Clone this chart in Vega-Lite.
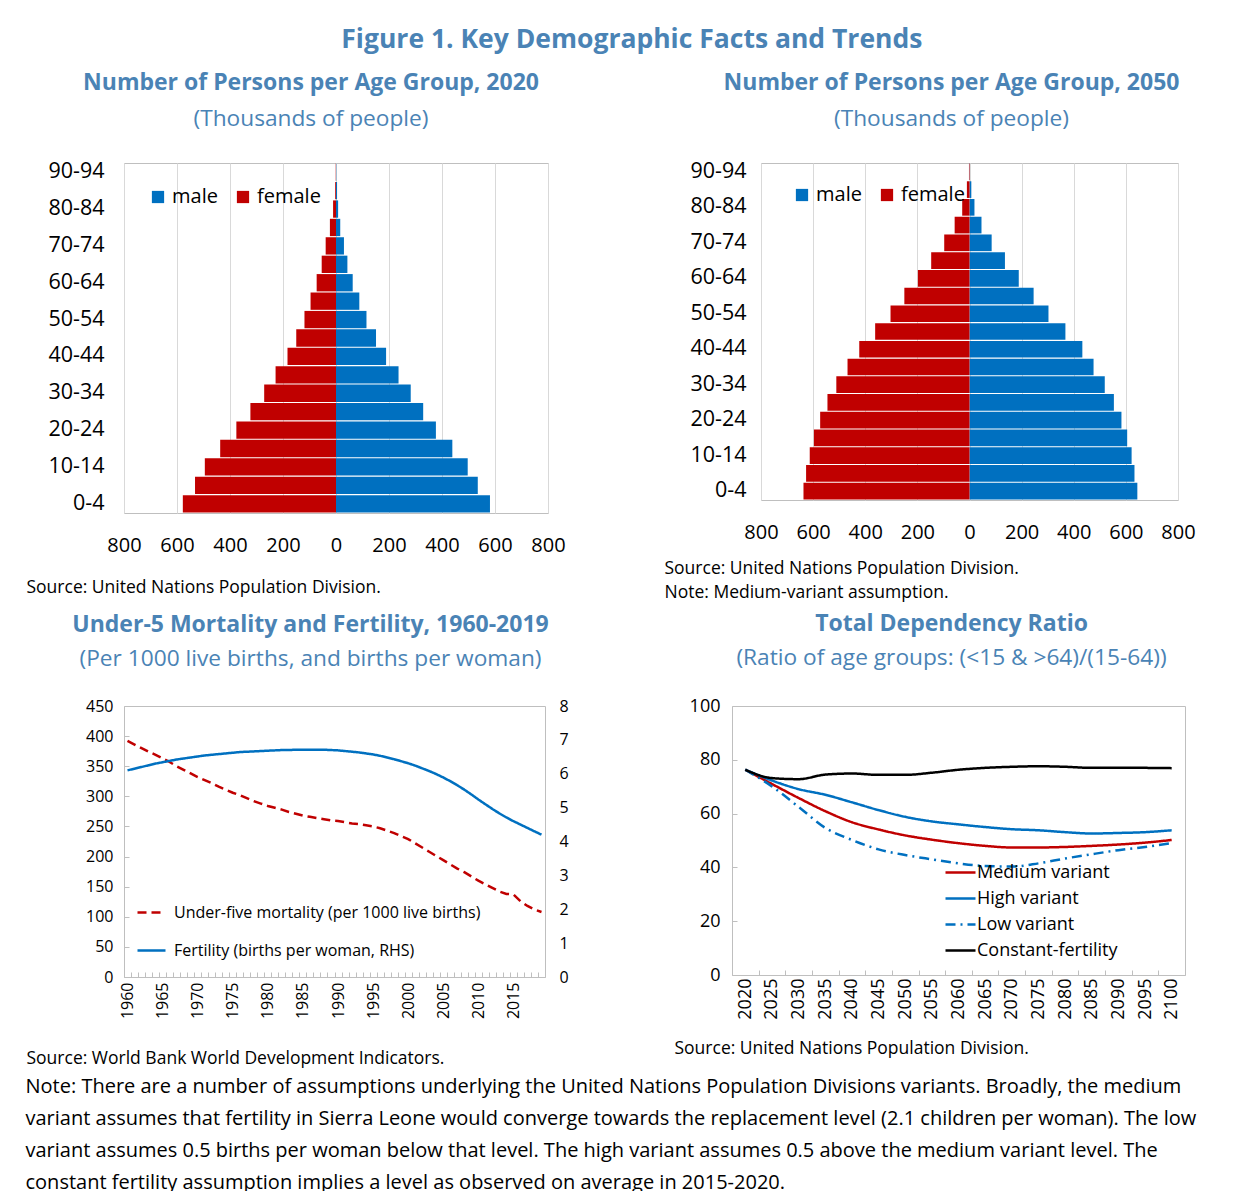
{
  "$schema": "https://vega.github.io/schema/vega-lite/v6.json",
  "background": "white",
  "padding": {"left": 25, "top": 26, "right": 5, "bottom": 0},
  "config": {
    "font": "Open Sans",
    "view": {"stroke": "#BFBFBF", "strokeWidth": 1},
    "axis": {"labelColor": "#000000", "labelFont": "Open Sans", "domain": false, "ticks": false, "grid": false, "titleColor": "#000000", "titleFont": "Open Sans", "titleFontWeight": "normal"},
    "legend": {"labelColor": "#000000", "labelFont": "Open Sans", "labelLimit": 0},
    "title": {"color": "#4A83B5", "font": "Open Sans", "subtitleColor": "#4A83B5", "subtitleFont": "Open Sans"}
  },
  "title": {"text": "Figure 1. Key Demographic Facts and Trends", "fontSize": 26.5, "fontWeight": "bold", "anchor": "middle", "dx": 21, "offset": 18},
  "resolve": {"scale": {"color": "independent", "strokeDash": "independent"}, "legend": {"color": "independent", "strokeDash": "independent"}},
  "spacing": 11,
  "vconcat": [
    {
      "hconcat": [
        {
          "width": 424, "height": 350,
          "title": {"text": "Number of Persons per Age Group, 2020", "subtitle": "(Thousands of people)", "fontSize": 23, "subtitleFontSize": 22.7, "fontWeight": "bold", "anchor": "middle", "frame": "group", "dx": -25, "offset": 30, "subtitlePadding": 13},
          "data": {"values": [
            {"age": "0-4", "male": 581, "female": 578},
            {"age": "5-9", "male": 535, "female": 532},
            {"age": "10-14", "male": 497, "female": 495},
            {"age": "15-19", "male": 439, "female": 437},
            {"age": "20-24", "male": 377, "female": 376},
            {"age": "25-29", "male": 329, "female": 323},
            {"age": "30-34", "male": 282, "female": 271},
            {"age": "35-39", "male": 236, "female": 228},
            {"age": "40-44", "male": 189, "female": 183},
            {"age": "45-49", "male": 151, "female": 150},
            {"age": "50-54", "male": 115, "female": 119},
            {"age": "55-59", "male": 88, "female": 96},
            {"age": "60-64", "male": 63, "female": 73},
            {"age": "65-69", "male": 43, "female": 54},
            {"age": "70-74", "male": 30, "female": 39},
            {"age": "75-79", "male": 16, "female": 23},
            {"age": "80-84", "male": 8, "female": 11},
            {"age": "85-89", "male": 4, "female": 3},
            {"age": "90-94", "male": 1, "female": 1}
          ]},
          "encoding": {
            "y": {"field": "age", "type": "ordinal",
              "scale": {"domain": ["90-94","85-89","80-84","75-79","70-74","65-69","60-64","55-59","50-54","45-49","40-44","35-39","30-34","25-29","20-24","15-19","10-14","5-9","0-4"], "paddingInner": 0.06, "paddingOuter": 0.03},
              "axis": {"title": null, "values": ["90-94","80-84","70-74","60-64","50-54","40-44","30-34","20-24","10-14","0-4"], "labelFontSize": 21.5, "labelPadding": 20}}
          },
          "layer": [
            {
              "mark": {"type": "bar"},
              "encoding": {
                "x": {"field": "male", "type": "quantitative", "scale": {"domain": [-800, 800]},
                  "axis": {"title": "Source: United Nations Population Division.", "values": [-800,-600,-400,-200,0,200,400,600,800], "labelExpr": "abs(datum.value)", "labelFlush": false, "grid": true, "gridColor": "#D9D9D9", "labelFontSize": 20, "labelPadding": 22, "titleFontSize": 17.5, "titleAnchor": "start", "titleAlign": "left", "titleBaseline": "alphabetic", "titleX": -98, "titleY": 79}},
                "color": {"datum": "male", "type": "nominal", "scale": {"domain": ["male", "female"], "range": ["#0070C0", "#C00000"]},
                  "legend": {"title": null, "orient": "none", "legendX": 24, "legendY": 24, "direction": "horizontal", "symbolType": "square", "symbolSize": 150, "symbolStrokeWidth": 0, "labelFontSize": 20, "labelOffset": 4, "columnPadding": 15}}
              }
            },
            {
              "mark": {"type": "bar"},
              "encoding": {
                "x": {"field": "female", "type": "quantitative", "scale": {"domain": [-800, 800], "reverse": true}, "axis": null},
                "color": {"datum": "female", "type": "nominal", "scale": {"domain": ["male", "female"], "range": ["#0070C0", "#C00000"]}}
              }
            }
          ],
          "resolve": {"scale": {"x": "independent"}, "axis": {"x": "independent"}}
        },
        {
          "width": 417, "height": 337,
          "title": {"text": "Number of Persons per Age Group, 2050", "subtitle": "(Thousands of people)", "fontSize": 23, "subtitleFontSize": 22.7, "fontWeight": "bold", "anchor": "middle", "frame": "group", "dx": -18, "offset": 30, "subtitlePadding": 13},
          "data": {"values": [
            {"age": "0-4", "male": 644, "female": 637},
            {"age": "5-9", "male": 633, "female": 627},
            {"age": "10-14", "male": 622, "female": 613},
            {"age": "15-19", "male": 605, "female": 597},
            {"age": "20-24", "male": 583, "female": 573},
            {"age": "25-29", "male": 554, "female": 545},
            {"age": "30-34", "male": 519, "female": 511},
            {"age": "35-39", "male": 476, "female": 468},
            {"age": "40-44", "male": 433, "female": 423},
            {"age": "45-49", "male": 368, "female": 362},
            {"age": "50-54", "male": 303, "female": 303},
            {"age": "55-59", "male": 246, "female": 250},
            {"age": "60-64", "male": 189, "female": 198},
            {"age": "65-69", "male": 136, "female": 147},
            {"age": "70-74", "male": 85, "female": 97},
            {"age": "75-79", "male": 46, "female": 57},
            {"age": "80-84", "male": 19, "female": 28},
            {"age": "85-89", "male": 7, "female": 10},
            {"age": "90-94", "male": 1, "female": 2}
          ]},
          "encoding": {
            "y": {"field": "age", "type": "ordinal",
              "scale": {"domain": ["90-94","85-89","80-84","75-79","70-74","65-69","60-64","55-59","50-54","45-49","40-44","35-39","30-34","25-29","20-24","15-19","10-14","5-9","0-4"], "paddingInner": 0.06, "paddingOuter": 0.03},
              "axis": {"title": null, "values": ["90-94","80-84","70-74","60-64","50-54","40-44","30-34","20-24","10-14","0-4"], "labelFontSize": 21.5, "labelPadding": 15}}
          },
          "layer": [
            {
              "mark": {"type": "bar"},
              "encoding": {
                "x": {"field": "male", "type": "quantitative", "scale": {"domain": [-800, 800]},
                  "axis": {"title": ["Source: United Nations Population Division.", "Note: Medium-variant assumption."], "values": [-800,-600,-400,-200,0,200,400,600,800], "labelExpr": "abs(datum.value)", "labelFlush": false, "grid": true, "gridColor": "#D9D9D9", "labelFontSize": 20, "labelPadding": 22, "titleFontSize": 17.5, "titleLineHeight": 24, "titleAnchor": "start", "titleAlign": "left", "titleBaseline": "alphabetic", "titleX": -97, "titleY": 73}},
                "color": {"datum": "male", "type": "nominal", "scale": {"domain": ["male", "female"], "range": ["#0070C0", "#C00000"]},
                  "legend": {"title": null, "orient": "none", "legendX": 31, "legendY": 22, "direction": "horizontal", "symbolType": "square", "symbolSize": 150, "symbolStrokeWidth": 0, "labelFontSize": 20, "labelOffset": 4, "columnPadding": 15}}
              }
            },
            {
              "mark": {"type": "bar"},
              "encoding": {
                "x": {"field": "female", "type": "quantitative", "scale": {"domain": [-800, 800], "reverse": true}, "axis": null},
                "color": {"datum": "female", "type": "nominal", "scale": {"domain": ["male", "female"], "range": ["#0070C0", "#C00000"]}}
              }
            }
          ],
          "resolve": {"scale": {"x": "independent"}, "axis": {"x": "independent"}}
        }
      ],
      "spacing": 213,
      "bounds": "flush",
      "resolve": {"scale": {"color": "independent"}, "legend": {"color": "independent"}}
    },
    {
      "title": {"text": [
        "Note: There are a number of assumptions underlying the United Nations Population Divisions variants. Broadly, the medium",
        "variant assumes that fertility in Sierra Leone would converge towards the replacement level (2.1 children per woman). The low",
        "variant assumes 0.5 births per woman below that level. The high variant assumes 0.5 above the medium variant level. The",
        "constant fertility assumption implies a level as observed on average in 2015-2020."
      ], "orient": "bottom", "anchor": "start", "frame": "bounds", "fontSize": 20, "fontWeight": "normal", "color": "#000000", "lineHeight": 32, "offset": 10, "dx": 0},
      "hconcat": [
        {
          "width": 421, "height": 271,
          "title": {"text": "Under-5 Mortality and Fertility, 1960-2019", "subtitle": "(Per 1000 live births, and births per woman)", "fontSize": 23, "subtitleFontSize": 22.7, "fontWeight": "bold", "anchor": "middle", "frame": "group", "dx": -24, "offset": 27, "subtitlePadding": 11},
          "data": {"values": [
            {"year": 1960, "mortality": 392, "fertility": 6.10},
            {"year": 1961, "mortality": 386, "fertility": 6.15},
            {"year": 1962, "mortality": 380, "fertility": 6.20},
            {"year": 1963, "mortality": 374, "fertility": 6.25},
            {"year": 1964, "mortality": 369, "fertility": 6.30},
            {"year": 1965, "mortality": 363, "fertility": 6.34},
            {"year": 1966, "mortality": 357, "fertility": 6.38},
            {"year": 1967, "mortality": 350, "fertility": 6.42},
            {"year": 1968, "mortality": 344, "fertility": 6.45},
            {"year": 1969, "mortality": 338, "fertility": 6.48},
            {"year": 1970, "mortality": 332, "fertility": 6.51},
            {"year": 1971, "mortality": 327, "fertility": 6.54},
            {"year": 1972, "mortality": 322, "fertility": 6.56},
            {"year": 1973, "mortality": 316, "fertility": 6.58},
            {"year": 1974, "mortality": 311, "fertility": 6.60},
            {"year": 1975, "mortality": 306, "fertility": 6.62},
            {"year": 1976, "mortality": 302, "fertility": 6.64},
            {"year": 1977, "mortality": 297, "fertility": 6.65},
            {"year": 1978, "mortality": 292, "fertility": 6.66},
            {"year": 1979, "mortality": 288, "fertility": 6.67},
            {"year": 1980, "mortality": 284, "fertility": 6.68},
            {"year": 1981, "mortality": 281, "fertility": 6.69},
            {"year": 1982, "mortality": 278, "fertility": 6.70},
            {"year": 1983, "mortality": 274, "fertility": 6.70},
            {"year": 1984, "mortality": 271, "fertility": 6.71},
            {"year": 1985, "mortality": 268, "fertility": 6.71},
            {"year": 1986, "mortality": 266, "fertility": 6.71},
            {"year": 1987, "mortality": 264, "fertility": 6.71},
            {"year": 1988, "mortality": 262, "fertility": 6.71},
            {"year": 1989, "mortality": 260, "fertility": 6.70},
            {"year": 1990, "mortality": 259, "fertility": 6.69},
            {"year": 1991, "mortality": 257, "fertility": 6.67},
            {"year": 1992, "mortality": 255, "fertility": 6.65},
            {"year": 1993, "mortality": 254, "fertility": 6.63},
            {"year": 1994, "mortality": 252, "fertility": 6.60},
            {"year": 1995, "mortality": 250, "fertility": 6.57},
            {"year": 1996, "mortality": 247, "fertility": 6.53},
            {"year": 1997, "mortality": 243, "fertility": 6.48},
            {"year": 1998, "mortality": 239, "fertility": 6.43},
            {"year": 1999, "mortality": 234, "fertility": 6.37},
            {"year": 2000, "mortality": 229, "fertility": 6.31},
            {"year": 2001, "mortality": 222, "fertility": 6.24},
            {"year": 2002, "mortality": 215, "fertility": 6.16},
            {"year": 2003, "mortality": 208, "fertility": 6.08},
            {"year": 2004, "mortality": 201, "fertility": 5.99},
            {"year": 2005, "mortality": 194, "fertility": 5.89},
            {"year": 2006, "mortality": 187, "fertility": 5.78},
            {"year": 2007, "mortality": 180, "fertility": 5.66},
            {"year": 2008, "mortality": 174, "fertility": 5.53},
            {"year": 2009, "mortality": 167, "fertility": 5.39},
            {"year": 2010, "mortality": 160, "fertility": 5.24},
            {"year": 2011, "mortality": 154, "fertility": 5.10},
            {"year": 2012, "mortality": 148, "fertility": 4.96},
            {"year": 2013, "mortality": 142, "fertility": 4.83},
            {"year": 2014, "mortality": 138, "fertility": 4.71},
            {"year": 2015, "mortality": 137, "fertility": 4.60},
            {"year": 2016, "mortality": 126, "fertility": 4.50},
            {"year": 2017, "mortality": 118, "fertility": 4.40},
            {"year": 2018, "mortality": 112, "fertility": 4.30},
            {"year": 2019, "mortality": 108, "fertility": 4.20}
          ]},
          "encoding": {
            "x": {"field": "year", "type": "ordinal", "bandPosition": 0.5,
              "scale": {"type": "band", "paddingInner": 0, "paddingOuter": 0},
              "axis": {"title": "Source: World Bank World Development Indicators.", "labelExpr": "datum.value % 5 == 0 ? datum.label : ''", "labelAngle": -90, "labelFontSize": 16, "labelOverlap": false, "labelPadding": 10, "ticks": true, "tickBand": "extent", "tickSize": -5, "tickColor": "#BFBFBF", "titleFontSize": 17.5, "titleAnchor": "start", "titleAlign": "left", "titleBaseline": "alphabetic", "titleX": -98, "titleY": 86}}
          },
          "layer": [
            {
              "mark": {"type": "line", "strokeWidth": 2.5},
              "encoding": {
                "y": {"field": "mortality", "type": "quantitative", "scale": {"domain": [0, 450]},
                  "axis": {"title": null, "values": [0,50,100,150,200,250,300,350,400,450], "labelFontSize": 16, "labelPadding": 16, "ticks": true, "tickSize": -5, "tickColor": "#BFBFBF"}},
                "color": {"datum": "Under-five mortality (per 1000 live births)", "type": "nominal",
                  "scale": {"domain": ["Under-five mortality (per 1000 live births)", "Fertility (births per woman, RHS)"], "range": ["#C00000", "#0070C0"]},
                  "legend": {"title": null, "orient": "none", "legendX": 12, "legendY": 191, "symbolType": "stroke", "symbolSize": 784, "symbolStrokeWidth": 2.5, "labelFontSize": 16, "labelOffset": 7, "rowPadding": 14, "labelLimit": 0}},
                "strokeDash": {"datum": "Under-five mortality (per 1000 live births)", "type": "nominal",
                  "scale": {"domain": ["Under-five mortality (per 1000 live births)", "Fertility (births per woman, RHS)"], "range": [[9, 5], [1, 0]]},
                  "legend": {"title": null, "orient": "none", "legendX": 12, "legendY": 191, "symbolType": "stroke", "symbolSize": 784, "symbolStrokeWidth": 2.5, "labelFontSize": 16, "labelOffset": 7, "rowPadding": 14, "labelLimit": 0}}
              }
            },
            {
              "mark": {"type": "line", "strokeWidth": 2.5},
              "encoding": {
                "y": {"field": "fertility", "type": "quantitative", "scale": {"domain": [0, 8]},
                  "axis": {"title": null, "orient": "right", "values": [0,1,2,3,4,5,6,7,8], "labelFontSize": 16, "labelPadding": 14}},
                "color": {"datum": "Fertility (births per woman, RHS)", "type": "nominal",
                  "scale": {"domain": ["Under-five mortality (per 1000 live births)", "Fertility (births per woman, RHS)"], "range": ["#C00000", "#0070C0"]}},
                "strokeDash": {"datum": "Fertility (births per woman, RHS)", "type": "nominal",
                  "scale": {"domain": ["Under-five mortality (per 1000 live births)", "Fertility (births per woman, RHS)"], "range": [[9, 5], [1, 0]]}}
              }
            }
          ],
          "resolve": {"scale": {"y": "independent"}, "axis": {"y": "independent"}}
        },
        {
          "width": 453, "height": 269,
          "title": {"text": "Total Dependency Ratio", "subtitle": "(Ratio of age groups: (<15 & >64)/(15-64))", "fontSize": 23, "subtitleFontSize": 22.7, "fontWeight": "bold", "anchor": "middle", "frame": "group", "dx": -7, "offset": 27, "subtitlePadding": 11},
          "data": {"values": [
            {"year": 2020, "medium": 76.3, "high": 76.3, "low": 76.3, "constant": 76.3},
            {"year": 2025, "medium": 71.0, "high": 72.3, "low": 70.1, "constant": 73.2},
            {"year": 2030, "medium": 65.8, "high": 69.1, "low": 62.5, "constant": 72.8},
            {"year": 2035, "medium": 60.9, "high": 67.0, "low": 54.7, "constant": 74.5},
            {"year": 2040, "medium": 56.8, "high": 64.2, "low": 50.2, "constant": 74.9},
            {"year": 2045, "medium": 54.1, "high": 61.3, "low": 46.7, "constant": 74.4},
            {"year": 2050, "medium": 51.9, "high": 58.8, "low": 44.6, "constant": 74.4},
            {"year": 2055, "medium": 50.3, "high": 57.1, "low": 43.0, "constant": 75.2},
            {"year": 2060, "medium": 49.0, "high": 56.0, "low": 41.5, "constant": 76.3},
            {"year": 2065, "medium": 48.0, "high": 55.0, "low": 40.5, "constant": 77.0},
            {"year": 2070, "medium": 47.4, "high": 54.2, "low": 40.3, "constant": 77.4},
            {"year": 2075, "medium": 47.4, "high": 53.8, "low": 41.5, "constant": 77.6},
            {"year": 2080, "medium": 47.6, "high": 53.1, "low": 43.3, "constant": 77.4},
            {"year": 2085, "medium": 48.0, "high": 52.6, "low": 44.9, "constant": 77.0},
            {"year": 2090, "medium": 48.5, "high": 52.8, "low": 46.4, "constant": 77.0},
            {"year": 2095, "medium": 49.2, "high": 53.1, "low": 47.6, "constant": 77.0},
            {"year": 2100, "medium": 50.2, "high": 53.8, "low": 49.0, "constant": 76.9}
          ]},
          "encoding": {
            "x": {"field": "year", "type": "ordinal", "bandPosition": 0.5,
              "scale": {"type": "band", "paddingInner": 0, "paddingOuter": 0},
              "axis": {"title": "Source: United Nations Population Division.", "labelAngle": -90, "labelFontSize": 18, "labelOverlap": false, "labelPadding": 8, "ticks": true, "tickBand": "extent", "tickSize": -5, "tickColor": "#BFBFBF", "titleFontSize": 17.5, "titleAnchor": "start", "titleAlign": "left", "titleBaseline": "alphabetic", "titleX": -58, "titleY": 78}}
          },
          "layer": [
            {
              "mark": {"type": "line", "strokeWidth": 2.5, "interpolate": "monotone"},
              "encoding": {
                "y": {"field": "medium", "type": "quantitative", "scale": {"domain": [0, 100]},
                  "axis": {"title": null, "values": [0,20,40,60,80,100], "labelFontSize": 18, "labelPadding": 17, "ticks": true, "tickSize": -5, "tickColor": "#BFBFBF"}},
                "color": {"datum": "Medium variant", "type": "nominal",
                  "scale": {"domain": ["Medium variant", "High variant", "Low variant", "Constant-fertility"], "range": ["#C00000", "#0070C0", "#0070C0", "#000000"]},
                  "legend": {"title": null, "orient": "none", "legendX": 212, "legendY": 150, "symbolType": "stroke", "symbolSize": 900, "symbolStrokeWidth": 2.5, "labelFontSize": 18, "labelOffset": 0, "rowPadding": 0}},
                "strokeDash": {"datum": "Medium variant", "type": "nominal",
                  "scale": {"domain": ["Medium variant", "High variant", "Low variant", "Constant-fertility"], "range": [[1, 0], [1, 0], [10, 5, 2, 5], [1, 0]]},
                  "legend": {"title": null, "orient": "none", "legendX": 212, "legendY": 150, "symbolType": "stroke", "symbolSize": 900, "symbolStrokeWidth": 2.5, "labelFontSize": 18, "labelOffset": 0, "rowPadding": 0}}
              }
            },
            {
              "mark": {"type": "line", "strokeWidth": 2.5, "interpolate": "monotone"},
              "encoding": {
                "y": {"field": "high", "type": "quantitative"},
                "color": {"datum": "High variant", "type": "nominal"},
                "strokeDash": {"datum": "High variant", "type": "nominal"}
              }
            },
            {
              "mark": {"type": "line", "strokeWidth": 2.5, "interpolate": "monotone"},
              "encoding": {
                "y": {"field": "low", "type": "quantitative"},
                "color": {"datum": "Low variant", "type": "nominal"},
                "strokeDash": {"datum": "Low variant", "type": "nominal"}
              }
            },
            {
              "mark": {"type": "line", "strokeWidth": 2.5, "interpolate": "monotone"},
              "encoding": {
                "y": {"field": "constant", "type": "quantitative"},
                "color": {"datum": "Constant-fertility", "type": "nominal"},
                "strokeDash": {"datum": "Constant-fertility", "type": "nominal"}
              }
            }
          ]
        }
      ],
      "spacing": 187,
      "bounds": "flush",
      "resolve": {"scale": {"color": "independent", "strokeDash": "independent"}, "legend": {"color": "independent", "strokeDash": "independent"}}
    }
  ]
}
